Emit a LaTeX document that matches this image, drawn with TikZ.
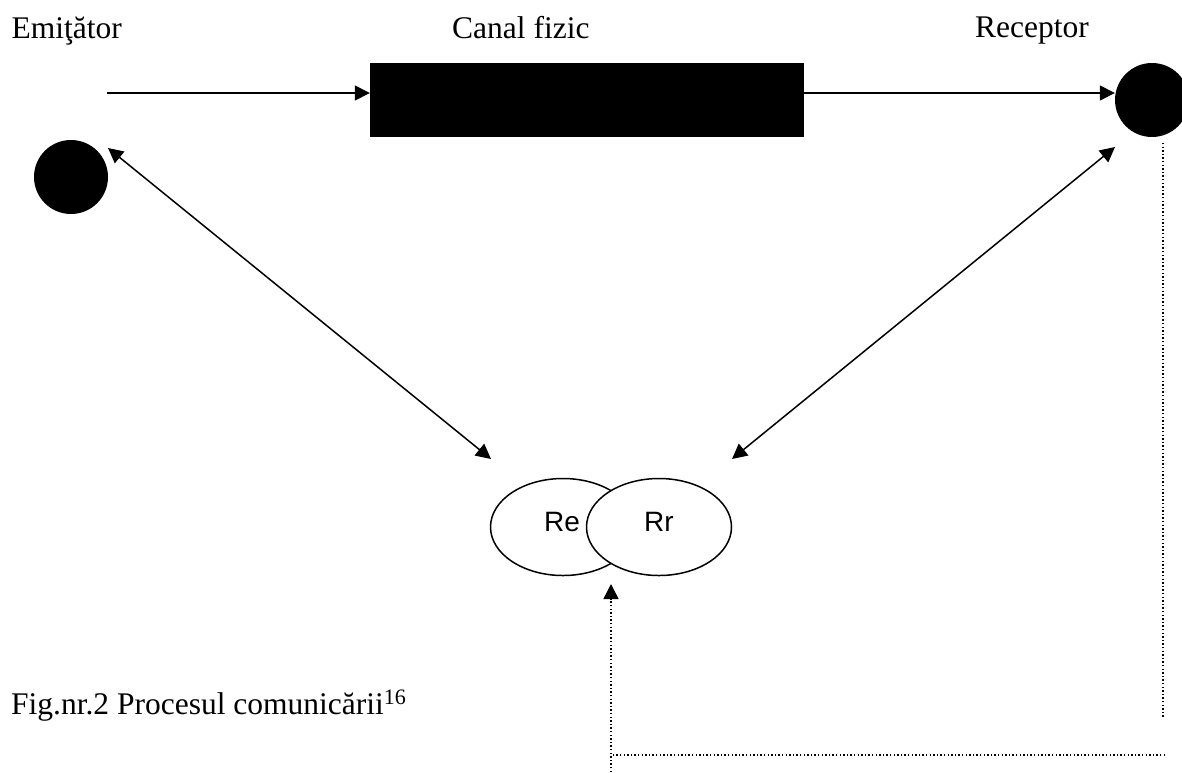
\documentclass[tikz,border=0pt]{standalone}
\usepackage{fontspec}
\setmainfont{Liberation Serif}
\newfontfamily\arialf{Liberation Sans}
\usetikzlibrary{arrows.meta,shapes.geometric}
\begin{document}
\begin{tikzpicture}[x=1pt,y=-1pt,
 conn/.style={line width=1.5pt},
 tipend/.style={-{Triangle[length=15pt,width=15pt]}},
 tipboth/.style={{Triangle[length=15pt,width=15pt]}-{Triangle[length=15pt,width=15pt]}},
 dotl/.style={line width=1.5pt, dash pattern=on 1.4pt off 2.2pt},
 ball/.style={circle,fill=black,minimum size=74pt,inner sep=0pt},
 ring/.style={ellipse,draw,line width=1.5pt,fill=white,minimum width=145pt,minimum height=97pt,inner sep=0pt},
 ttl/.style={anchor=base west,inner sep=0pt,font=\fontsize{31.5}{36}\selectfont},
 rlabel/.style={anchor=base,inner sep=0pt,font=\arialf\fontsize{28}{32}\selectfont}]
\useasboundingbox (0,0) rectangle (1182,772);
\clip (0,0) rectangle (1182,772);
% texts
\node[ttl] (temit) at (11.5,38) {Emiţător};
\node[ttl] (tcanal) at (452,38) {Canal fizic};
\node[ttl] (trec) at (975,37) {Receptor};
\node[ttl] (tfig) at (11,714) {Fig.nr.2 Procesul comunicării\textsuperscript{16}};
% shapes
\node[ball] (E) at (71,177) {};
\node[ball] (R) at (1152,100) {};
\node[fill=black,minimum width=434pt,minimum height=74pt,inner sep=0pt] (C) at (587,100) {};
\node[ring] (Le) at (563,527) {};
\node[ring] (Ri) at (659,527) {};
\node[rlabel] (tre) at (562,531) {Re};
\node[rlabel] (trr) at (659,531) {Rr};
% coordinates
\coordinate (s1) at (107,93);
\coordinate (eL) at (108,148);
\coordinate (bL) at (491,459);
\coordinate (eR) at (1115,147);
\coordinate (bR) at (732,459);
\coordinate (d1) at (1163,143);
\coordinate (d2) at (1163,718);
\coordinate (d3) at (1165,755);
\coordinate (d4) at (611,755);
\coordinate (d5) at (611,772);
\coordinate (d6) at (611,584);
% connectors
\draw[conn,tipend] (s1) -- (C.west |- s1);
\draw[conn,tipend] (C.east |- s1) -- (R.west |- s1);
\draw[conn,tipboth] (eL) -- (bL);
\draw[conn,tipboth] (eR) -- (bR);
\draw[dotl] (d1) -- (d2);
\draw[dotl] (d3) -- (d4);
\draw[dotl,tipend] (d5) -- (d6);
\end{tikzpicture}
\end{document}
